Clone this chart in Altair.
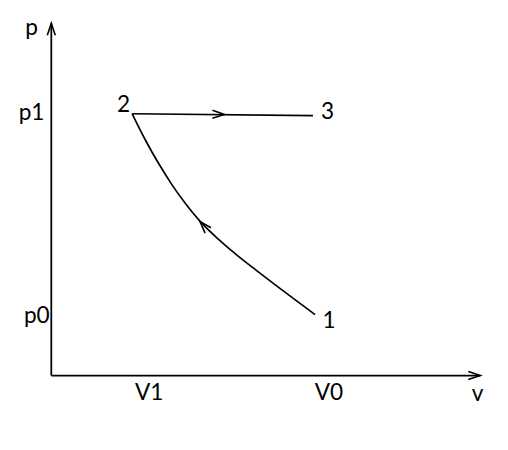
import altair as alt
import pandas as pd

# Process curve 1 -> 2 (arbitrary units: V0 = 10, p1 = 10)
curve_v = [10.02, 9.27, 8.52, 7.78, 7.10, 6.28, 5.65, 5.05, 4.60, 4.08, 3.59, 3.07]
curve_p = [2.32, 2.88, 3.44, 4.01, 4.53, 5.24, 5.84, 6.59, 7.22, 8.05, 8.91, 9.96]

# Process line 2 -> 3
line_v = [3.07, 9.94]
line_p = [9.96, 9.89]

# Axis extents
axis_v_max = 16.3
axis_p_max = 13.4

# Arrow heads: position, direction (degrees clockwise from +v)
arrow_v = [0.0, axis_v_max, 6.58, 5.65]
arrow_p = [axis_p_max, 0.0, 9.93, 5.86]
arrow_angle = [270, 0, 1, 228]

# Text labels
label_text = ["p", "p1", "p0", "V1", "V0", "v", "2", "3", "1"]
label_v = [-0.75, -0.75, -0.55, 3.72, 10.55, 16.2, 2.75, 10.5, 10.55]
label_p = [13.2, 10.0, 2.25, -0.68, -0.68, -0.72, 10.28, 10.02, 2.08]

xs = alt.Scale(domain=[0, axis_v_max], nice=False, zero=False)
ys = alt.Scale(domain=[0, axis_p_max], nice=False, zero=False)

path_df = pd.DataFrame({
    "v": curve_v + line_v,
    "p": curve_p + line_p,
    "seg": ["curve"] * len(curve_v) + ["line"] * len(line_v),
    "i": list(range(len(curve_v))) + list(range(len(line_v))),
})

axes_df = pd.DataFrame({
    "v": [0.0, 0.0], "p": [0.0, 0.0],
    "v2": [0.0, axis_v_max], "p2": [axis_p_max, 0.0],
})

arrow_df = pd.DataFrame({"v": arrow_v, "p": arrow_p, "a": arrow_angle})
label_df = pd.DataFrame({"t": label_text, "v": label_v, "p": label_p})

axes = alt.Chart(axes_df).mark_rule(color="black", strokeWidth=1.8).encode(
    x=alt.X("v:Q", scale=xs, axis=None),
    y=alt.Y("p:Q", scale=ys, axis=None),
    x2="v2:Q", y2="p2:Q",
)

paths = alt.Chart(path_df).mark_line(
    color="black", strokeWidth=1.7, interpolate="basis"
).encode(
    x=alt.X("v:Q", scale=xs, axis=None),
    y=alt.Y("p:Q", scale=ys, axis=None),
    detail="seg:N",
    order="i:Q",
)

arrows = alt.Chart(arrow_df).mark_point(
    shape="M-1,-0.33L0,0L-1,0.33", filled=False, color="black",
    strokeWidth=1.6, size=600, opacity=1,
).encode(
    x=alt.X("v:Q", scale=xs, axis=None),
    y=alt.Y("p:Q", scale=ys, axis=None),
    angle=alt.Angle("a:Q", scale=None),
)

labels = alt.Chart(label_df).mark_text(
    font="Lato", fontSize=23, color="black", align="center", baseline="middle"
).encode(
    x=alt.X("v:Q", scale=xs, axis=None),
    y=alt.Y("p:Q", scale=ys, axis=None),
    text="t:N",
)

chart = alt.layer(axes, paths, arrows, labels).properties(
    width=436, height=358,
    autosize=alt.AutoSizeParams(type="none"),
    padding={"left": 44, "top": 12, "right": 20, "bottom": 64},
    background="white",
).configure_view(stroke=None)

chart.save("out.html", embed_options={"renderer": "svg", "actions": False})
